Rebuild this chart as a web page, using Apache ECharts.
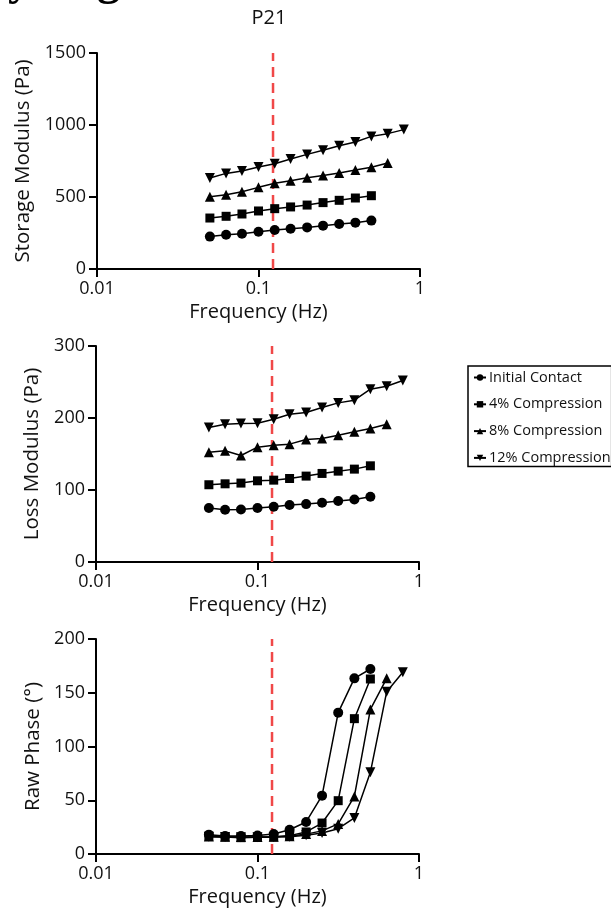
<!DOCTYPE html>
<html>
<head>
<meta charset="utf-8">
<script src="https://cdn.jsdelivr.net/npm/echarts@6/dist/echarts.min.js"></script>
<style>
  html, body { margin: 0; padding: 0; background: #fff; }
  #main { width: 611px; height: 909px; }
</style>
</head>
<body>
<div id="main"></div>
<script>
// frequencies (Hz), shared by every panel
var freqs = [0.05, 0.063, 0.079, 0.1, 0.126, 0.158, 0.2, 0.251, 0.316, 0.398, 0.5, 0.631, 0.794];
var seriesNames = ['Initial Contact', '4% Compression', '8% Compression', '12% Compression'];
var xTicks = ['0.01', '0.1', '1'];
var markerFreq = 0.123;

// storage modulus (Pa)
var storageInitial = [225, 238, 245, 259, 271, 280, 289, 301, 313, 322, 336];
var storage4 = [354, 366, 382, 403, 419, 431, 444, 461, 477, 493, 509];
var storage8 = [502, 516, 537, 567, 595, 613, 634, 650, 667, 688, 706, 736];
var storage12 = [632, 664, 681, 708, 731, 764, 796, 824, 856, 882, 921, 940, 968];

// loss modulus (Pa)
var lossInitial = [74.9, 72.6, 73.0, 74.9, 76.7, 79.1, 80.4, 82.3, 84.6, 86.9, 90.6];
var loss4 = [107.3, 108.6, 109.6, 112.8, 113.7, 116.0, 119.3, 123.0, 126.2, 129.0, 133.6];
var loss8 = [152.6, 154.4, 147.9, 159.5, 162.3, 163.7, 170.1, 171.5, 176.1, 180.8, 185.4, 191.4];
var loss12 = [186.8, 191.4, 192.3, 192.8, 198.3, 205.3, 207.6, 214.5, 221, 224.7, 240, 244, 252];

// raw phase (deg)
var phaseInitial = [18.0, 16.8, 16.8, 17.2, 18.6, 22.6, 29.8, 54.3, 131.5, 163.4, 172.1];
var phase4 = [16.4, 15.8, 15.2, 15.5, 15.8, 17.1, 20.5, 28.8, 49.6, 125.9, 162.8];
var phase8 = [16.2, 16.0, 15.8, 15.8, 16.0, 16.6, 18.5, 21.5, 28.0, 53.6, 134.5, 163.4];
var phase12 = [16.0, 15.8, 15.6, 15.6, 15.8, 16.0, 17.5, 19.5, 23.5, 33.5, 76.0, 151.0, 169.0];

var FONT = '"Open Sans", sans-serif';
var symbols = ['circle', 'rect', 'triangle', 'path://M0,0 L10,0 L5,9 Z'];
var symbolSizes = [10, 9, 10, 10];

function pairs(vals) {
    return vals.map(function (v, i) { return [freqs[i], v]; });
}

function xAxis(idx) {
    return {
        type: 'log', logBase: 10, min: 0.01, max: 1, gridIndex: idx,
        name: 'Frequency (Hz)', nameLocation: 'middle', nameGap: 33,
        nameTextStyle: { fontFamily: FONT, fontSize: 20, color: '#111' },
        axisLine: { lineStyle: { color: '#000', width: 2 } },
        axisTick: { show: true, length: 8, lineStyle: { color: '#000', width: 2 } },
        minorTick: { show: false },
        splitLine: { show: false },
        axisLabel: {
            margin: 11, fontFamily: FONT, fontSize: 18, color: '#111',
            formatter: function (v) {
                var k = Math.round(Math.log10(v)) + 2;
                return xTicks[k] || '';
            }
        }
    };
}

function yAxis(idx, name, max, interval, gap) {
    return {
        type: 'value', min: 0, max: max, interval: interval, gridIndex: idx,
        name: name, nameLocation: 'middle', nameGap: gap,
        nameTextStyle: { fontFamily: FONT, fontSize: 20.5, color: '#111' },
        axisLine: { show: true, lineStyle: { color: '#000', width: 2 } },
        axisTick: { show: true, length: 8, lineStyle: { color: '#000', width: 2 } },
        splitLine: { show: false },
        axisLabel: {
            margin: 11, fontFamily: FONT, fontSize: 18, color: '#111',
            formatter: function (v) { return String(v); }
        }
    };
}

function lineSeries(idx, k, vals) {
    return {
        name: seriesNames[k], type: 'line',
        xAxisIndex: idx, yAxisIndex: idx,
        data: pairs(vals),
        symbol: symbols[k], symbolSize: symbolSizes[k],
        showAllSymbol: true,
        lineStyle: { color: '#000', width: 1.5 },
        itemStyle: { color: '#000' },
        z: 3
    };
}

// red dashed reference line at markerFreq, spanning the panel height
function refLine(idx, max) {
    return {
        name: 'ref', type: 'line', silent: true,
        xAxisIndex: idx, yAxisIndex: idx,
        data: [[markerFreq, 0], [markerFreq, max]],
        symbol: 'none',
        lineStyle: { color: '#f04848', width: 2.5, type: [10, 6] },
        z: 2
    };
}

var panels = [
    [storageInitial, storage4, storage8, storage12],
    [lossInitial, loss4, loss8, loss12],
    [phaseInitial, phase4, phase8, phase12]
];
var panelMax = [1500, 300, 200];

var series = [];
panels.forEach(function (p, idx) {
    series.push(refLine(idx, panelMax[idx]));
    p.forEach(function (vals, k) {
        series.push(lineSeries(idx, k, vals));
    });
});

var myChart = echarts.init(document.getElementById('main'), null, { renderer: 'canvas' });
var option = {
    animation: false,
    backgroundColor: '#fff',
    textStyle: { fontFamily: FONT },
    graphic: [
        { type: 'text', x: 269, y: 8, style: { text: 'P21', font: '20px ' + FONT, fill: '#111', textAlign: 'center' } },
        { type: 'text', x: 8, y: -41, style: { text: 'y', font: 'bold 46px "Liberation Serif", serif', fill: '#000' } },
        { type: 'text', x: 97, y: -41, style: { text: 'g', font: 'bold 46px "Liberation Serif", serif', fill: '#000' } }
    ],
    legend: {
        orient: 'vertical', left: 468, top: 366,
        data: seriesNames,
        itemWidth: 12, itemHeight: 8, itemGap: 11.8,
        padding: [4, 1, 1, 5],
        borderColor: '#000', borderWidth: 1.5, borderRadius: 0,
        textStyle: { fontFamily: FONT, fontSize: 14.5, color: '#111', padding: [0, 0, 0, -2] }
    },
    grid: [
        { left: 97, top: 53, width: 323, height: 216 },
        { left: 96, top: 346, width: 323, height: 216 },
        { left: 96, top: 639, width: 323, height: 215 }
    ],
    xAxis: [xAxis(0), xAxis(1), xAxis(2)],
    yAxis: [
        yAxis(0, 'Storage Modulus (Pa)', 1500, 500, 60),
        yAxis(1, 'Loss Modulus (Pa)', 300, 100, 53),
        yAxis(2, 'Raw Phase (°)', 200, 50, 43)
    ],
    series: series
};
myChart.setOption(option);
</script>
</body>
</html>
